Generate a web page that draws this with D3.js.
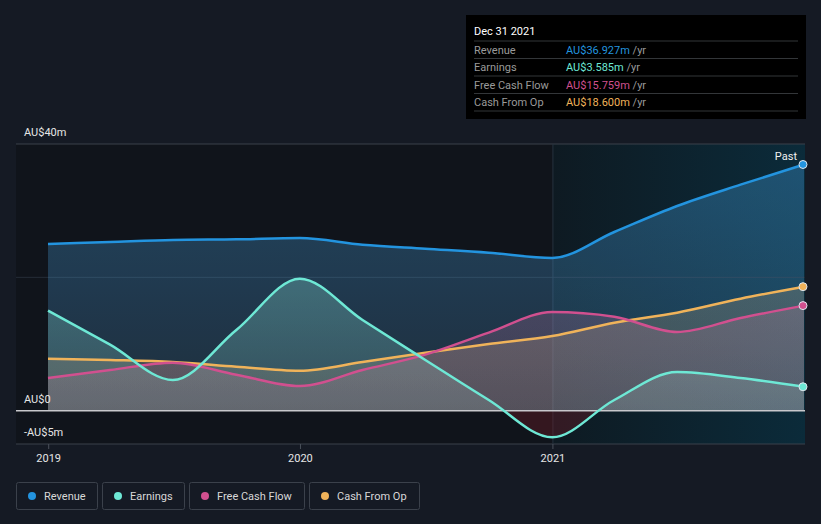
<!DOCTYPE html>
<html><head><meta charset="utf-8">
<script src="https://cdn.jsdelivr.net/npm/d3@7"></script>
<style>
html,body{margin:0;padding:0;background:#151a24;}
svg{display:block;font-family:Roboto,"Noto Sans",sans-serif;}
</style></head>
<body>
<svg id="c" width="821" height="524"></svg>
<script>
const dates = ["2018-12-31","2019-03-31","2019-06-30","2019-09-30","2019-12-31","2020-03-31","2020-06-30","2020-09-30","2020-12-31","2021-03-31","2021-06-30","2021-09-30","2021-12-31"];
const revenue  = [25.0, 25.3, 25.6, 25.7, 25.9, 24.9, 24.3, 23.7, 22.9, 26.8, 30.7, 33.9, 36.927];
const earnings = [15.0, 9.9, 4.6, 12.1, 19.8, 13.6, 7.6, 1.6, -4.0, 1.6, 5.8, 4.9, 3.585];
const fcf      = [4.9, 6.1, 7.2, 5.4, 3.7, 6.1, 8.4, 11.7, 14.8, 14.1, 11.8, 13.9, 15.759];
const cfo      = [7.8, 7.6, 7.3, 6.6, 6.0, 7.3, 8.7, 10.0, 11.2, 13.2, 14.7, 16.8, 18.600];
const yTicks = [-5, 0, 20, 40];
const yTickLabels = {"-5":"-AU$5m","0":"AU$0","40":"AU$40m"};
const xTicks = ["2019-01-01","2020-01-01","2021-01-01"];
const seriesNames = ["Revenue","Earnings","Free Cash Flow","Cash From Op"];
const seriesColors = ["#2394df","#6ee8d5","#d1508f","#f0b35a"];
const tooltipDate = "Dec 31 2021";
const tooltipValues = ["AU$36.927m","AU$3.585m","AU$15.759m","AU$18.600m"];

const parse = d3.timeParse("%Y-%m-%d");
const X = dates.map(parse);
const svg = d3.select("#c");
const left = 16, plotL = 48, plotR = 804, edgeR = 805;
const x = d3.scaleTime().domain([X[0], X[X.length-1]]).range([plotL, plotR]);
const y = d3.scaleLinear().domain([-5, 40]).range([444, 144]);

const defs = svg.append("defs");
const pg = defs.append("linearGradient").attr("id","pastg").attr("x1","0").attr("x2","1").attr("y1","0").attr("y2","0");
pg.append("stop").attr("offset","0").attr("stop-color","#0e1a22");
pg.append("stop").attr("offset","1").attr("stop-color","#0b2b3a");

const x21 = x(parse(xTicks[2]));
svg.append("rect").attr("x",left).attr("y",y(40)).attr("width",x21-left).attr("height",y(-5)-y(40)).attr("fill","#10141b");
svg.append("rect").attr("x",x21).attr("y",y(40)).attr("width",edgeR-x21).attr("height",y(-5)-y(40)).attr("fill","url(#pastg)");

[40,20,-5].forEach(v=>{
  svg.append("line").attr("x1",left).attr("x2",edgeR).attr("y1",y(v)).attr("y2",y(v))
    .attr("stroke", v===20 ? "#262d38" : "#3b414b").attr("stroke-width",1);
});
svg.append("line").attr("x1",x21).attr("x2",x21).attr("y1",y(40)).attr("y2",y(-5)).attr("stroke","#26323d").attr("stroke-width",1);

const fillOp = [[0.32,0.12],[0.40,0.12],[0.28,0.10],[0.22,0.10]];
seriesColors.forEach((c,i)=>{
  const g = defs.append("linearGradient").attr("id","ag"+i).attr("gradientUnits","userSpaceOnUse")
    .attr("x1",0).attr("x2",0).attr("y1",y(40)).attr("y2",y(0));
  g.append("stop").attr("offset","0").attr("stop-color",c).attr("stop-opacity",fillOp[i][0]);
  g.append("stop").attr("offset","1").attr("stop-color",c).attr("stop-opacity",fillOp[i][1]);
});
defs.append("clipPath").attr("id","above").append("rect").attr("x",0).attr("y",0).attr("width",821).attr("height",y(0));
defs.append("clipPath").attr("id","below").append("rect").attr("x",0).attr("y",y(0)).attr("width",821).attr("height",100);

const all = [revenue, earnings, fcf, cfo];
const curve = d3.curveMonotoneX;
const area = d3.area().x((d,i)=>x(X[i])).y0(y(0)).y1(d=>y(d)).curve(curve);
const line = d3.line().x((d,i)=>x(X[i])).y(d=>y(d)).curve(curve);

all.forEach((s,i)=>{
  svg.append("path").attr("d",area(s)).attr("fill","url(#ag"+i+")").attr("clip-path","url(#above)");
});
all.forEach((s,i)=>{
  svg.append("path").attr("d",area(s)).attr("fill","rgba(200,200,210,0.07)").attr("clip-path","url(#above)");
});
all.forEach((s,i)=>{
  svg.append("path").attr("d",area(s)).attr("fill","rgba(120,30,40,0.35)").attr("clip-path","url(#below)");
});

svg.append("line").attr("x1",left).attr("x2",edgeR).attr("y1",y(0)).attr("y2",y(0)).attr("stroke","#c8c8cc").attr("stroke-width",1.5);

[3,2,1,0].forEach(i=>{
  svg.append("path").attr("d",line(all[i])).attr("fill","none").attr("stroke",seriesColors[i]).attr("stroke-width",2.5);
});
all.forEach((s,i)=>{
  svg.append("circle").attr("cx",x(X[X.length-1])-1).attr("cy",y(s[s.length-1])).attr("r",4)
    .attr("fill",seriesColors[i]).attr("stroke","#dfe6ee").attr("stroke-width",1);
});

yTicks.forEach(v=>{
  const lab = yTickLabels[String(v)];
  if(!lab) return;
  svg.append("text").attr("x",24).attr("y",y(v)-8).attr("fill","#e6e6e6").attr("font-size",11).text(lab);
});
xTicks.forEach(t=>{
  const xx = x(parse(t));
  svg.append("line").attr("x1",xx).attr("x2",xx).attr("y1",y(-5)).attr("y2",y(-5)+5).attr("stroke","#4a505a");
  svg.append("text").attr("x",xx).attr("y",462).attr("text-anchor","middle").attr("fill","#e6e6e6").attr("font-size",11).text(t.slice(0,4));
});
svg.append("text").attr("x",797).attr("y",160).attr("text-anchor","end").attr("fill","#f0f0f0").attr("font-size",11).text("Past");

const tb = svg.append("g");
tb.append("rect").attr("x",466).attr("y",15).attr("width",340).attr("height",104).attr("fill","#000");
tb.append("text").attr("x",474).attr("y",35).attr("fill","#fff").attr("font-size",11).text(tooltipDate);
const rowY = [41,58.5,76,93.5,111];
rowY.forEach(r=>tb.append("line").attr("x1",474).attr("x2",798).attr("y1",r).attr("y2",r).attr("stroke","#333639"));
seriesNames.forEach((n,i)=>{
  const by = rowY[i]+12.5;
  tb.append("text").attr("x",474).attr("y",by).attr("fill","#9a9a9a").attr("font-size",11).text(n);
  const t = tb.append("text").attr("x",566).attr("y",by).attr("font-size",11);
  t.append("tspan").attr("fill",seriesColors[i]).text(tooltipValues[i]);
  t.append("tspan").attr("fill","#9a9a9a").text(" /yr");
});

let lx = 16;
const lg = svg.append("g");
seriesNames.forEach((n,i)=>{
  const w = [81,82,115,110][i];
  lg.append("rect").attr("x",lx+0.5).attr("y",482.5).attr("width",w).attr("height",27).attr("rx",2)
    .attr("fill","none").attr("stroke","#3b414b");
  lg.append("circle").attr("cx",lx+16).attr("cy",496).attr("r",4).attr("fill",seriesColors[i]);
  lg.append("text").attr("x",lx+28).attr("y",500).attr("fill","#d8d8d8").attr("font-size",11).text(n);
  lx += w + 5;
});
</script>
</body></html>
